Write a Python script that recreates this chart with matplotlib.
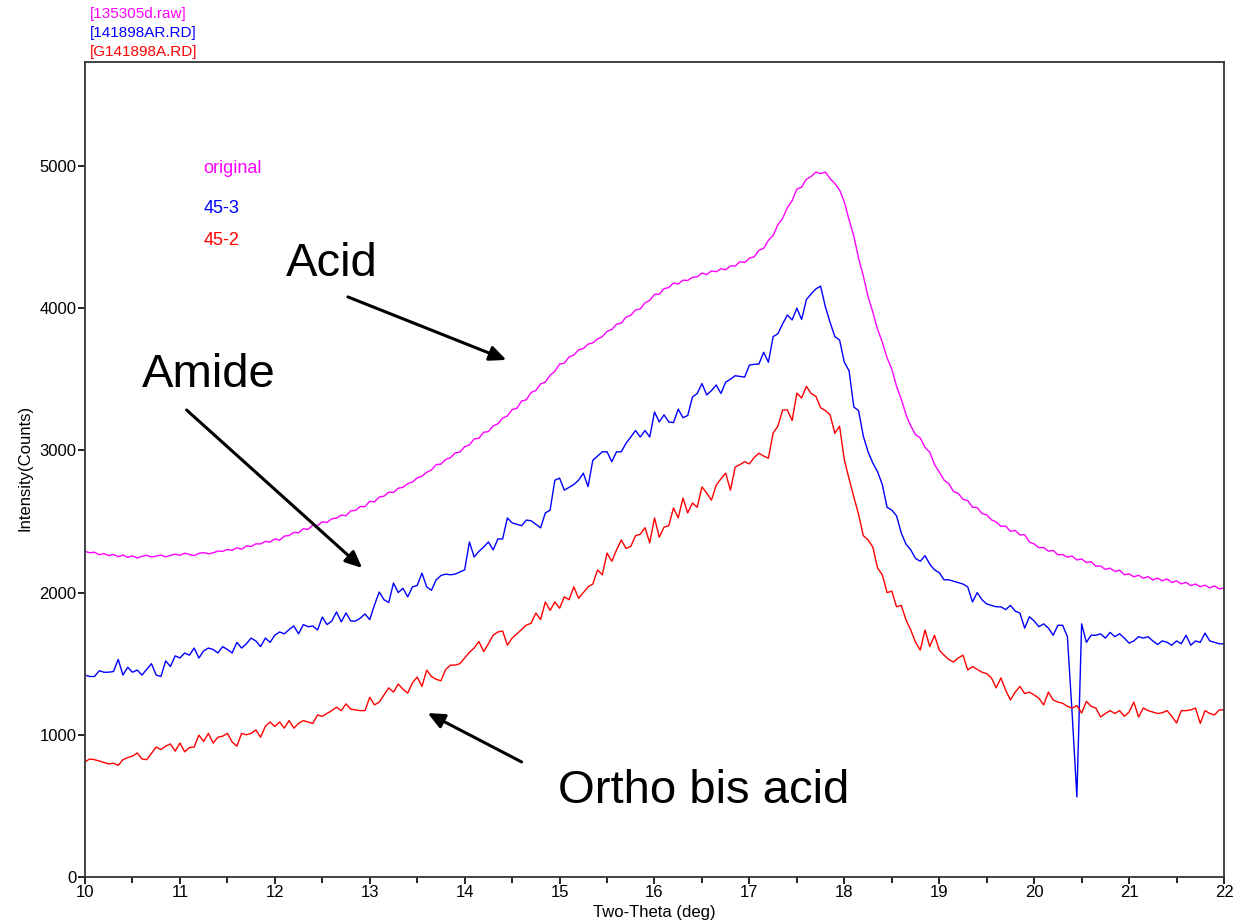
import numpy as np
import matplotlib
matplotlib.use("Agg")
import matplotlib.pyplot as plt

plt.rcParams['font.family'] = ['Liberation Sans', 'DejaVu Sans']

# Two-theta grid (0.05 deg steps)
x_fine = np.round(np.arange(10.0, 22.0001, 0.05), 2)

original = [
    2290, 2280, 2284, 2266, 2274, 2260, 2268, 2252, 2264, 2248, 2258, 2243, 2255, 2262, 2250, 2256, 2264, 2251, 2262, 2270,
    2262, 2277, 2268, 2260, 2276, 2281, 2273, 2279, 2292, 2290, 2303, 2298, 2315, 2305, 2328, 2324, 2343, 2342, 2360, 2355,
    2378, 2368, 2397, 2401, 2424, 2420, 2449, 2444, 2474, 2472, 2497, 2494, 2519, 2524, 2545, 2540, 2575, 2578, 2605, 2604,
    2642, 2638, 2672, 2678, 2706, 2704, 2734, 2740, 2766, 2778, 2806, 2818, 2846, 2862, 2900, 2903, 2936, 2948, 2982, 2988,
    3026, 3038, 3081, 3085, 3127, 3132, 3172, 3187, 3227, 3242, 3287, 3296, 3347, 3356, 3407, 3421, 3467, 3480, 3528, 3556,
    3607, 3613, 3657, 3670, 3707, 3716, 3747, 3756, 3783, 3800, 3837, 3850, 3887, 3895, 3937, 3950, 3987, 3995, 4037, 4055,
    4097, 4098, 4137, 4145, 4177, 4170, 4197, 4195, 4217, 4220, 4247, 4236, 4262, 4256, 4277, 4270, 4297, 4296, 4327, 4321,
    4352, 4361, 4407, 4421, 4477, 4511, 4587, 4631, 4707, 4756, 4838, 4851, 4907, 4926, 4957, 4946, 4957, 4911, 4877, 4831,
    4747, 4621, 4507, 4351, 4227, 4081, 3973, 3851, 3762, 3651, 3572, 3451, 3361, 3251, 3172, 3111, 3087, 3021, 2987, 2901,
    2848, 2791, 2767, 2711, 2697, 2656, 2647, 2601, 2597, 2556, 2547, 2511, 2497, 2466, 2467, 2431, 2437, 2406, 2407, 2356,
    2342, 2316, 2317, 2291, 2297, 2266, 2267, 2249, 2257, 2229, 2237, 2211, 2217, 2186, 2187, 2163, 2172, 2149, 2157, 2126,
    2131, 2111, 2122, 2101, 2112, 2089, 2102, 2083, 2096, 2071, 2082, 2061, 2072, 2049, 2060, 2041, 2052, 2033, 2047, 2026,
    2032,
]

s45_3 = [
    1420, 1410, 1410, 1450, 1440, 1440, 1445, 1530, 1420, 1475, 1440, 1455, 1420, 1460, 1500, 1420, 1410, 1520, 1480, 1555,
    1540, 1575, 1560, 1610, 1540, 1590, 1610, 1600, 1575, 1620, 1600, 1575, 1650, 1610, 1640, 1680, 1660, 1620, 1680, 1650,
    1700, 1723, 1710, 1740, 1765, 1710, 1775, 1760, 1765, 1737, 1828, 1775, 1800, 1864, 1794, 1857, 1800, 1800, 1820, 1850,
    1810, 1913, 2004, 1950, 1930, 2067, 2000, 2030, 1970, 2040, 2050, 2137, 2040, 2016, 2090, 2120, 2130, 2125, 2130, 2145,
    2160, 2356, 2250, 2290, 2320, 2356, 2300, 2377, 2377, 2525, 2490, 2480, 2470, 2510, 2505, 2480, 2455, 2560, 2580, 2790,
    2805, 2720, 2740, 2760, 2790, 2840, 2745, 2930, 2960, 2990, 2990, 2920, 2990, 2990, 3050, 3094, 3140, 3094, 3140, 3094,
    3270, 3200, 3250, 3200, 3195, 3290, 3230, 3245, 3375, 3400, 3470, 3390, 3420, 3460, 3400, 3480, 3500, 3525, 3520, 3515,
    3600, 3605, 3607, 3690, 3620, 3800, 3820, 3890, 3952, 3917, 4000, 3920, 4060, 4100, 4135, 4155, 4010, 3900, 3800, 3776,
    3620, 3560, 3305, 3280, 3100, 2990, 2911, 2850, 2760, 2600, 2580, 2540, 2419, 2340, 2300, 2240, 2220, 2260, 2200, 2160,
    2140, 2090, 2090, 2080, 2070, 2060, 2040, 1934, 2000, 1950, 1920, 1910, 1900, 1900, 1880, 1910, 1870, 1856, 1750, 1830,
    1800, 1760, 1780, 1750, 1700, 1770, 1770, 1690, 1150, 563, 1780, 1650, 1700, 1700, 1710, 1680, 1720, 1690, 1710, 1680,
    1645, 1660, 1690, 1680, 1690, 1660, 1635, 1660, 1650, 1630, 1660, 1640, 1700, 1630, 1660, 1650, 1715, 1660, 1650, 1640,
    1640,
]

s45_2 = [
    810, 830, 825, 816, 805, 795, 800, 785, 825, 840, 850, 872, 830, 825, 870, 914, 896, 920, 936, 885,
    942, 880, 910, 914, 998, 953, 1010, 942, 983, 990, 1010, 950, 920, 1010, 1000, 1010, 1034, 983, 1060, 1090,
    1058, 1090, 1047, 1100, 1047, 1080, 1100, 1090, 1080, 1139, 1130, 1150, 1170, 1194, 1170, 1217, 1180, 1175, 1170, 1170,
    1264, 1210, 1230, 1280, 1330, 1300, 1357, 1320, 1293, 1365, 1406, 1340, 1455, 1410, 1390, 1380, 1460, 1490, 1490, 1500,
    1540, 1580, 1610, 1656, 1585, 1640, 1700, 1723, 1730, 1630, 1680, 1710, 1740, 1772, 1784, 1856, 1810, 1934, 1875, 1934,
    1890, 1970, 1950, 2040, 1960, 2000, 2040, 2060, 2159, 2125, 2278, 2220, 2300, 2370, 2310, 2325, 2400, 2410, 2457, 2350,
    2525, 2390, 2460, 2470, 2595, 2525, 2665, 2560, 2630, 2600, 2743, 2700, 2650, 2755, 2800, 2840, 2720, 2883, 2900, 2920,
    2905, 2950, 2980, 2960, 2945, 3122, 3170, 3284, 3284, 3210, 3403, 3368, 3450, 3400, 3380, 3300, 3280, 3250, 3120, 3170,
    2932, 2800, 2672, 2550, 2400, 2370, 2320, 2173, 2125, 2000, 2010, 1900, 1910, 1807, 1737, 1650, 1596, 1737, 1620, 1700,
    1596, 1560, 1530, 1512, 1540, 1560, 1455, 1480, 1460, 1440, 1430, 1400, 1330, 1400, 1313, 1245, 1300, 1340, 1290, 1300,
    1280, 1257, 1210, 1300, 1245, 1230, 1222, 1200, 1188, 1205, 1153, 1235, 1200, 1188, 1125, 1150, 1170, 1150, 1170, 1130,
    1160, 1230, 1125, 1188, 1170, 1160, 1150, 1155, 1170, 1130, 1083, 1170, 1170, 1175, 1188, 1080, 1170, 1150, 1140, 1175,
    1175,
]

series_names = ["original", "45-3", "45-2"]
series_colors = ["#FF00FF", "#0000FF", "#FF0000"]
file_labels = ["[135305d.raw]", "[141898AR.RD]", "[G141898A.RD]"]
x_ticks = list(range(10, 23))
y_ticks = [0, 1000, 2000, 3000, 4000, 5000]

W, H = 1243, 923
fig = plt.figure(figsize=(W / 100, H / 100), dpi=100)
ax = fig.add_axes([85 / W, 1 - 877 / H, (1224 - 85) / W, (877 - 62) / H])

ax.plot(x_fine, original, color=series_colors[0], lw=1.0)
ax.plot(x_fine, s45_3, color=series_colors[1], lw=1.0)
ax.plot(x_fine, s45_2, color=series_colors[2], lw=1.0)

ax.set_xlim(10, 22)
ax.set_ylim(0, 5731)
ax.set_xticks(x_ticks)
ax.set_xticks(np.arange(10.5, 22, 1.0), minor=True)
ax.set_yticks(y_ticks)
ax.tick_params(axis='both', which='major', direction='out', length=5, width=1.2,
               labelsize=12, pad=1, colors='black')
ax.tick_params(axis='x', which='minor', direction='out', length=4, width=1.2)
for sp in ax.spines.values():
    sp.set_linewidth(1.3)
    sp.set_color('#333333')

# axis labels
fig.text(654 / W, 1 - 913 / H, "Two-Theta (deg)", ha='center', va='center', fontsize=12)
fig.text(25 / W, 1 - 468 / H, "Intensity(Counts)", ha='center', va='center',
         rotation=90, fontsize=12)

# file labels top-left
for i, (lab, c) in enumerate(zip(file_labels, series_colors)):
    fig.text(90 / W, 1 - (14 + 19 * i) / H, lab, color=c, fontsize=11,
             ha='left', va='center')

# in-plot series legend texts
legend_y = [4979, 4698, 4473]
for name, c, yy in zip(series_names, series_colors, legend_y):
    ax.text(11.25, yy, name, color=c, fontsize=13, ha='left', va='center')

# annotations
ax.text(12.12, 4226, "Acid", fontsize=34, ha='left', va='baseline')
ax.text(10.60, 3446, "Amide", fontsize=34, ha='left', va='baseline')
ax.text(14.98, 520, "Ortho bis acid", fontsize=34, ha='left', va='baseline')

arrow_kw = dict(arrowstyle='-|>,head_length=1.0,head_width=0.45', color='black',
                lw=2.2, shrinkA=0, shrinkB=0)
ax.annotate("", xy=(14.44, 3636), xytext=(12.77, 4079), arrowprops=arrow_kw)
ax.annotate("", xy=(12.92, 2173), xytext=(11.07, 3284), arrowprops=arrow_kw)
ax.annotate("", xy=(13.61, 1153), xytext=(14.60, 809), arrowprops=arrow_kw)

fig.savefig("out.png", dpi=100)
